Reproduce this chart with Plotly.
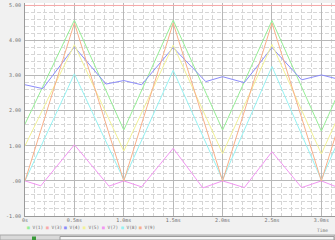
import plotly.graph_objects as go

# ---- data ----
t_tri = [0.0, 0.5, 1.0, 1.5, 2.0, 2.5, 3.0, 3.5]          # ms
v1 = [1.62, 4.58, 1.45, 4.58, 1.45, 4.57, 1.42, 4.57]
v5 = [1.00, 3.88, 0.85, 3.87, 0.78, 3.89, 0.77, 3.88]
v8 = [0.00, 3.05, 0.03, 3.15, 0.03, 3.26, 0.03, 3.30]
v9 = [0.00, 4.50, 0.00, 4.50, 0.00, 4.50, 0.00, 4.50]

t3 = [0.0, 3.5]
v3 = [5.0, 5.0]

t4 = [0.0, 0.18, 0.5, 0.82, 1.0, 1.18, 1.5, 1.83, 2.0, 2.22, 2.5, 2.8, 3.0, 3.2]
v4 = [2.74, 2.63, 3.82, 2.76, 2.86, 2.74, 3.80, 2.83, 2.97, 2.80, 3.80, 2.88, 3.02, 2.88]

t7 = [0.0, 0.16, 0.5, 0.85, 1.0, 1.18, 1.5, 1.8, 2.0, 2.22, 2.5, 2.8, 3.0, 3.18]
v7 = [0.0, -0.14, 1.03, -0.15, 0.0, -0.17, 0.93, -0.20, 0.0, -0.19, 0.83, -0.19, 0.0, -0.20]

x_tickvals = [0, 0.5, 1.0, 1.5, 2.0, 2.5, 3.0]
x_ticktext = ["0s", "0.5ms", "1.0ms", "1.5ms", "2.0ms", "2.5ms", "3.0ms"]
y_tickvals = [5, 4, 3, 2, 1, 0, -1]
y_ticktext = ["5.00", "4.00", "3.00", "2.00", "1.00", ".00", "-1.00"]

names = ["V(1)", "V(3)", "V(4)", "V(5)", "V(7)", "V(8)", "V(9)"]
colors = ["#96ee96", "#f8aaaa", "#8c8cfa", "#f2f296", "#f296f2", "#96f2f2", "#f8b08a"]

series = [
    (t_tri, v1), (t3, v3), (t4, v4), (t_tri, v5), (t7, v7), (t_tri, v8), (t_tri, v9)
]

fig = go.Figure()
for (tx, vy), nm, c in zip(series, names, colors):
    fig.add_trace(go.Scatter(x=tx, y=vy, mode="lines", name=nm,
                             line=dict(color=c, width=1), showlegend=False))

W, H = 335, 240
L, R, T, B = 25, 0, 3, 24
pw, ph = W - L - R, H - T - B

def px(xp):
    return (xp - L) / pw

def py(yp):
    return (H - B - yp) / ph

tickfont = dict(family="DejaVu Sans Mono", size=5, color="#707070")

fig.update_layout(
    width=W, height=H,
    margin=dict(l=L, r=R, t=T, b=B),
    paper_bgcolor="#f1f1f1",
    plot_bgcolor="#ffffff",
    xaxis=dict(range=[0, 3.138], tickvals=x_tickvals, ticktext=x_ticktext,
               showgrid=True, gridcolor="#b8b8b8", gridwidth=1,
               zeroline=False, showline=True, linecolor="#9a9a9a", linewidth=1,
               ticks="", tickfont=tickfont, ticklabelstandoff=-1,
               minor=dict(dtick=0.1, showgrid=True, gridcolor="#d6d6d6",
                          griddash="4px,2px", gridwidth=1)),
    yaxis=dict(range=[-1, 5.07], tickvals=y_tickvals, ticktext=y_ticktext,
               showgrid=True, gridcolor="#b8b8b8", gridwidth=1,
               zeroline=False, showline=True, linecolor="#9a9a9a", linewidth=1,
               ticks="", tickfont=tickfont, ticklabelstandoff=2,
               minor=dict(dtick=0.2, showgrid=True, gridcolor="#d6d6d6",
                          griddash="4px,2px", gridwidth=1)),
    showlegend=False,
)

# legend drawn as annotations (items too tight for plotly's own legend)
leg_x = [26, 45, 63, 82, 101, 120, 138]
legfont = dict(family="DejaVu Sans Mono", size=4.5, color="#707070")
for xx, nm, c in zip(leg_x, names, colors):
    fig.add_annotation(x=px(xx), y=py(227), xref="paper", yref="paper",
                       xanchor="left", yanchor="middle", showarrow=False,
                       text=f"<span style='color:{c}'>■</span> {nm}",
                       font=legfont, borderpad=0)

fig.add_annotation(x=px(322), y=py(231), xref="paper", yref="paper",
                   xanchor="center", yanchor="middle", showarrow=False,
                   text="Time", font=legfont, borderpad=0)

# window status bar at the very bottom
fig.add_shape(type="rect", xref="paper", yref="paper",
              x0=px(0), x1=px(335), y0=py(240), y1=py(235),
              fillcolor="#d9d9d9", line=dict(color="#a8a8a8", width=1), layer="above")
fig.add_shape(type="rect", xref="paper", yref="paper",
              x0=px(60), x1=px(334), y0=py(240), y1=py(236.5),
              fillcolor="#f6f6f6", line=dict(color="#9a9a9a", width=1), layer="above")
fig.add_shape(type="rect", xref="paper", yref="paper",
              x0=px(32), x1=px(36), y0=py(240), y1=py(236.5),
              fillcolor="#3a9a3a", line=dict(width=0), layer="above")

fig.write_html("out.html")
